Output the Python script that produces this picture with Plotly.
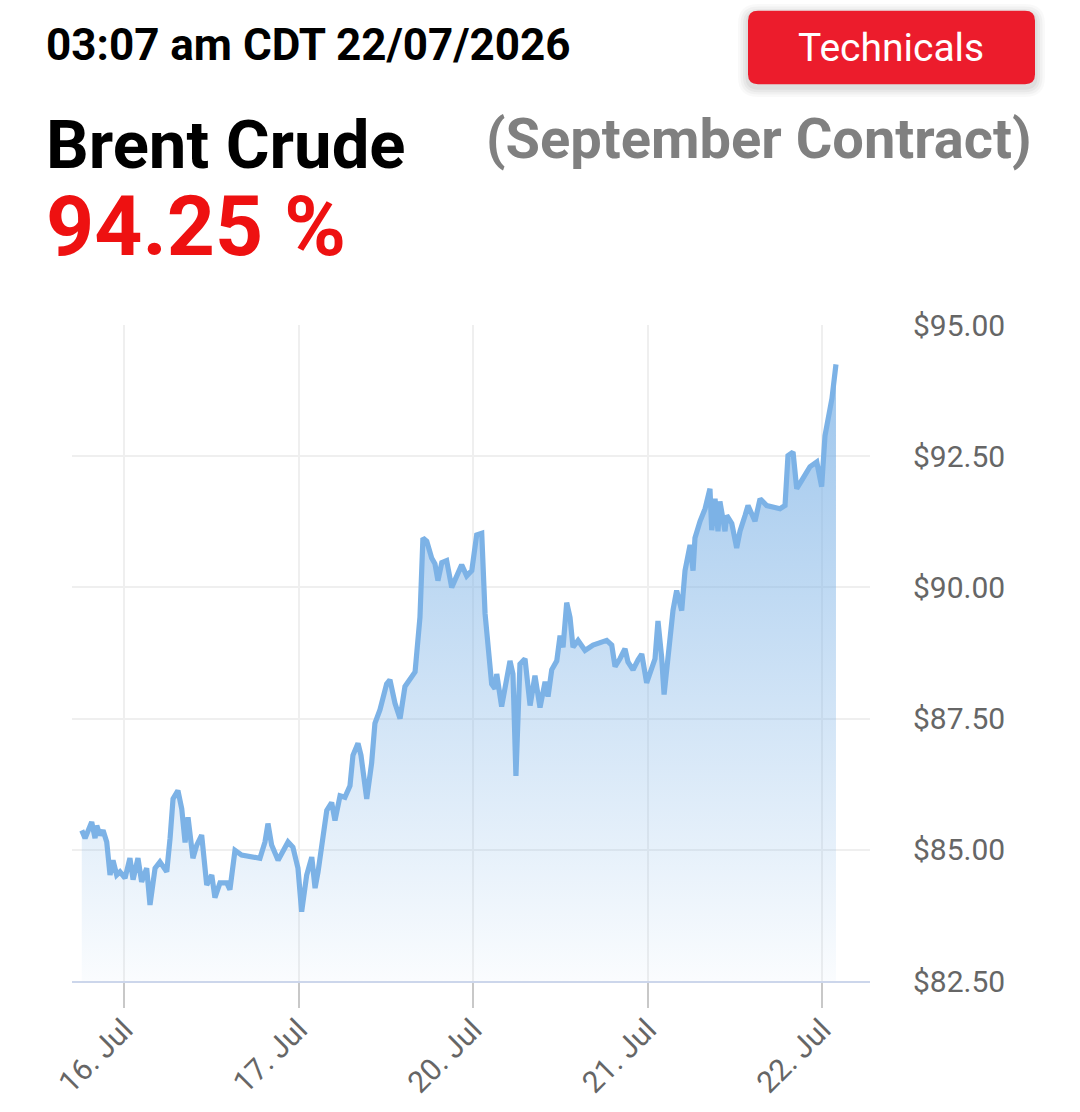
import plotly.graph_objects as go

# ---- data ----
day_labels = ["16. Jul", "17. Jul", "20. Jul", "21. Jul", "22. Jul"]
day_ticks = [0, 1, 2, 3, 4]
price_ticks = [82.5, 85.0, 87.5, 90.0, 92.5, 95.0]
price_tick_text = ["$82.50", "$85.00", "$87.50", "$90.00", "$92.50", "$95.00"]

# trading-day position (0 = 16 Jul, 1 = 17 Jul, 2 = 20 Jul, ...)
days = [-0.242, -0.223, -0.185, -0.166, -0.156, -0.138, -0.120, -0.099, -0.080, -0.063,
        -0.042, -0.023, 0.006, 0.034, 0.052, 0.080, 0.101, 0.130, 0.149, 0.178,
        0.206, 0.245, 0.264, 0.281, 0.309, 0.331, 0.350, 0.367, 0.395, 0.417,
        0.445, 0.474, 0.503, 0.521, 0.550, 0.589, 0.607, 0.636, 0.674, 0.779,
        0.808, 0.825, 0.846, 0.883, 0.904, 0.940, 0.968, 0.997, 1.018, 1.047,
        1.076, 1.095, 1.112, 1.140, 1.162, 1.190, 1.209, 1.238, 1.266, 1.295,
        1.312, 1.341, 1.358, 1.391, 1.419, 1.438, 1.467, 1.505, 1.524, 1.553,
        1.582, 1.610, 1.649, 1.668, 1.696, 1.713, 1.735, 1.763, 1.782, 1.799,
        1.821, 1.849, 1.878, 1.907, 1.935, 1.964, 1.993, 2.021, 2.050, 2.069,
        2.086, 2.107, 2.126, 2.136, 2.164, 2.183, 2.212, 2.229, 2.246, 2.269,
        2.298, 2.327, 2.355, 2.384, 2.413, 2.430, 2.451, 2.480, 2.499, 2.516,
        2.537, 2.556, 2.573, 2.602, 2.642, 2.688, 2.766, 2.795, 2.814, 2.842,
        2.871, 2.888, 2.917, 2.946, 2.967, 2.995, 3.024, 3.043, 3.060, 3.081,
        3.095, 3.117, 3.146, 3.167, 3.196, 3.215, 3.244, 3.261, 3.272, 3.301,
        3.330, 3.358, 3.368, 3.387, 3.404, 3.415, 3.444, 3.454, 3.483, 3.511,
        3.530, 3.559, 3.576, 3.616, 3.645, 3.683, 3.759, 3.788, 3.805, 3.834,
        3.855, 3.884, 3.931, 3.970, 3.998, 4.017, 4.034, 4.057, 4.080]

prices = [85.37, 85.22, 85.53, 85.22, 85.46, 85.28, 85.37, 85.15, 84.52, 84.80,
          84.52, 84.58, 84.46, 84.84, 84.43, 84.84, 84.39, 84.65, 83.95, 84.65,
          84.77, 84.58, 85.22, 85.97, 86.13, 85.78, 85.14, 85.62, 84.84, 85.09,
          85.28, 84.33, 84.52, 84.09, 84.37, 84.37, 84.24, 84.99, 84.90, 84.84,
          85.15, 85.50, 85.09, 84.80, 84.93, 85.15, 85.05, 84.65, 83.82, 84.52,
          84.86, 84.27, 84.58, 85.33, 85.75, 85.90, 85.56, 86.03, 86.00, 86.22,
          86.80, 87.03, 86.80, 85.97, 86.65, 87.41, 87.67, 88.16, 88.24, 87.79,
          87.50, 88.11, 88.30, 88.39, 89.43, 90.94, 90.88, 90.56, 90.45, 90.13,
          90.47, 90.51, 90.00, 90.25, 90.43, 90.22, 90.32, 91.00, 91.03, 89.50,
          88.80, 88.16, 88.07, 88.35, 87.73, 88.11, 88.60, 88.35, 86.41, 88.54,
          88.64, 87.75, 88.32, 87.71, 88.20, 87.92, 88.43, 88.60, 89.08, 88.86,
          89.71, 89.43, 88.86, 88.99, 88.80, 88.90, 88.99, 88.90, 88.49, 88.64,
          88.83, 88.58, 88.43, 88.62, 88.73, 88.18, 88.49, 88.64, 89.36, 88.67,
          87.96, 88.67, 89.56, 89.94, 89.56, 90.32, 90.81, 90.32, 90.94, 91.26,
          91.50, 91.88, 91.09, 91.69, 91.07, 91.64, 91.07, 91.37, 91.22, 90.75,
          91.07, 91.37, 91.56, 91.26, 91.69, 91.56, 91.50, 91.56, 92.51, 92.58,
          91.88, 92.04, 92.30, 92.39, 91.92, 92.89, 93.15, 93.60, 94.25]

timestamp_text = "03:07 am CDT 22/07/2026"
title_text = "Brent Crude"
subtitle_text = "(September Contract)"
last_value_text = "94.25 %"
button_text = "Technicals"

# ---- layout geometry (pixels) ----
W, H = 1080, 1112
PL, PR, PT, PB = 72, 870, 325, 987


def fx(px):
    return (px - PL) / (PR - PL)


def fy(py):
    return (PB - py) / (PB - PT)


def rounded_rect(x0, y0, x1, y1, r):
    X0, X1 = fx(x0), fx(x1)
    Y0, Y1 = fy(y1), fy(y0)
    rx = r / (PR - PL)
    ry = r / (PB - PT)
    return (f"M{X0 + rx},{Y0} L{X1 - rx},{Y0} Q{X1},{Y0} {X1},{Y0 + ry} "
            f"L{X1},{Y1 - ry} Q{X1},{Y1} {X1 - rx},{Y1} L{X0 + rx},{Y1} "
            f"Q{X0},{Y1} {X0},{Y1 - ry} L{X0},{Y0 + ry} Q{X0},{Y0} {X0 + rx},{Y0} Z")


fig = go.Figure()
fig.add_trace(go.Scatter(
    x=days, y=prices, mode="lines",
    line=dict(color="#7cb2e6", width=5.2),
    fill="tozeroy",
    fillgradient=dict(type="vertical",
                      colorscale=[[0, "rgba(124,178,230,0.03)"],
                                  [1, "rgba(124,178,230,0.75)"]],
                      start=82.5, stop=94.25),
    hoverinfo="skip", showlegend=False,
))

shapes = []
# button shadow
for i, a in enumerate([0.025, 0.03, 0.035, 0.04]):
    g = 10 - i * 2.5
    shapes.append(dict(type="path", xref="paper", yref="paper",
                       path=rounded_rect(748 - g, 8 - g + 3, 1035 + g, 82 + g + 3, 10 + g),
                       fillcolor=f"rgba(0,0,0,{a})", line=dict(width=0), layer="below"))
shapes.append(dict(type="path", xref="paper", yref="paper",
                   path=rounded_rect(748, 8, 1035, 82, 10),
                   fillcolor="#ec1c2c", line=dict(width=0), layer="above"))

annotations = [
    dict(text="<b>" + timestamp_text + "</b>", x=fx(44), y=fy(42), xanchor="left",
         yanchor="middle", font=dict(family="Roboto", size=44, color="#000000"),
         showarrow=False, xref="paper", yref="paper"),
    dict(text=button_text, x=fx(891), y=fy(45), xanchor="center", yanchor="middle",
         font=dict(family="Roboto", size=39, color="#ffffff"), showarrow=False,
         xref="paper", yref="paper"),
    dict(text="<b>" + title_text + "</b>", x=fx(44), y=fy(143), xanchor="left", yanchor="middle",
         font=dict(family="Roboto", size=67, color="#000000"), showarrow=False,
         xref="paper", yref="paper"),
    dict(text="<b>" + subtitle_text + "</b>", x=fx(1034), y=fy(137), xanchor="right",
         yanchor="middle", font=dict(family="Roboto", size=56, color="#808080"),
         showarrow=False, xref="paper", yref="paper"),
    dict(text="<b>" + last_value_text + "</b>", x=fx(44), y=fy(226), xanchor="left",
         yanchor="middle", font=dict(family="Roboto", size=84, color="#ee1111"),
         showarrow=False, xref="paper", yref="paper"),
]

fig.update_layout(
    width=W, height=H,
    margin=dict(l=PL, r=W - PR, t=PT, b=H - PB, pad=0),
    paper_bgcolor="#ffffff", plot_bgcolor="#ffffff",
    shapes=shapes, annotations=annotations,
    xaxis=dict(range=[-0.298, 4.275], tickvals=day_ticks, ticktext=day_labels,
               tickangle=-45, ticks="outside", ticklen=25, tickcolor="#c8c8c8",
               tickwidth=1.5, showgrid=True, gridcolor="#efefef", gridwidth=1.5,
               showline=True, linecolor="#ccd6eb", linewidth=2, zeroline=False,
               ticklabelstandoff=-8,
               tickfont=dict(family="Roboto", size=30, color="#666666")),
    yaxis=dict(range=[82.5, 95.0], side="right", tickvals=price_ticks,
               ticktext=price_tick_text, showgrid=True, gridcolor="#efefef",
               gridwidth=1.5, zeroline=False, showline=False, ticks="",
               ticklabelstandoff=42,
               tickfont=dict(family="Roboto", size=30, color="#666666")),
)

fig.write_html("out.html")
